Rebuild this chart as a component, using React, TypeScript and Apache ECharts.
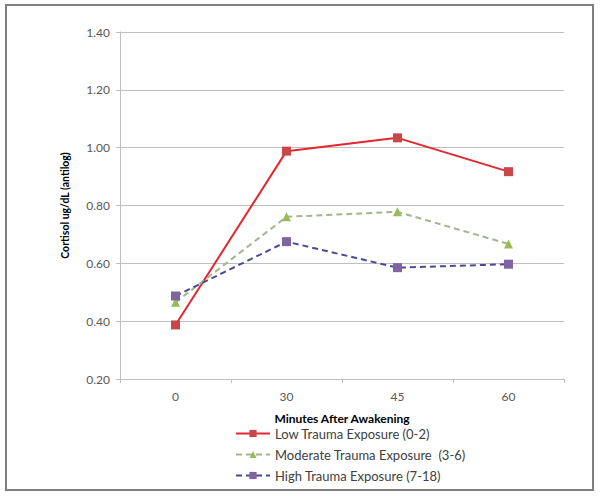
import React, { useEffect, useRef } from "react";
import * as echarts from "echarts";

const categories = ["0", "30", "45", "60"];
const lowTrauma = [0.387, 0.988, 1.034, 0.917];
const moderateTrauma = [0.465, 0.761, 0.778, 0.667];
const highTrauma = [0.487, 0.675, 0.585, 0.597];
const seriesNames = [
  "Low Trauma Exposure (0-2)",
  "Moderate Trauma Exposure  (3-6)",
  "High Trauma Exposure (7-18)",
];

const FONT = "Lato, 'Open Sans', sans-serif";

export default function App() {
  const ref = useRef<HTMLDivElement>(null);
  useEffect(() => {
    if (!ref.current) return;
    const chart = echarts.init(ref.current, undefined, { renderer: "svg" });
    chart.setOption({
      animation: false,
      backgroundColor: "#ffffff",
      textStyle: { fontFamily: FONT },
      graphic: [
        {
          type: "rect",
          shape: { x: 6, y: 5, width: 587, height: 485 },
          style: { fill: "none", stroke: "#7f7f7f", lineWidth: 2 },
          silent: true,
        },
      ],
      grid: { left: 120, top: 32, right: 36, bottom: 118 },
      xAxis: {
        type: "category",
        data: categories,
        boundaryGap: true,
        name: "Minutes After Awakening",
        nameLocation: "middle",
        nameGap: 33,
        nameTextStyle: { fontFamily: FONT, fontWeight: "bold", fontSize: 12, color: "#000" },
        axisLine: { lineStyle: { color: "#bfbfbf" } },
        axisTick: { show: true, length: 4, lineStyle: { color: "#bfbfbf" } },
        axisLabel: { fontFamily: FONT, fontSize: 12, color: "#595959", margin: 11 },
      },
      yAxis: {
        type: "value",
        min: 0.2,
        max: 1.4,
        interval: 0.2,
        name: "Cortisol ug/dL (antilog)",
        nameLocation: "middle",
        nameRotate: 90,
        nameGap: 50,
        nameTextStyle: { fontFamily: FONT, fontWeight: "bold", fontSize: 10.5, color: "#000" },
        axisLine: { show: true, lineStyle: { color: "#bfbfbf" } },
        axisTick: { show: true, length: 4, lineStyle: { color: "#bfbfbf" } },
        splitLine: { lineStyle: { color: "#bfbfbf" } },
        axisLabel: {
          fontFamily: FONT,
          fontSize: 12,
          color: "#595959",
          margin: 10,
          formatter: (v: number) => v.toFixed(2),
        },
      },
      legend: {
        orient: "vertical",
        left: 230,
        top: 422,
        itemWidth: 34,
        itemHeight: 9,
        itemGap: 8,
        textStyle: { fontFamily: FONT, fontSize: 13, color: "#404040" },
        data: seriesNames,
      },
      series: [
        {
          name: seriesNames[0],
          type: "line",
          data: lowTrauma,
          symbol: "rect",
          symbolSize: 9,
          lineStyle: { color: "#e0282e", width: 2 },
          itemStyle: { color: "#c8474a" },
        },
        {
          name: seriesNames[1],
          type: "line",
          data: moderateTrauma,
          symbol: "triangle",
          symbolSize: 9,
          lineStyle: { color: "#a3b58f", width: 2, type: [6, 4] },
          itemStyle: { color: "#9bbb59" },
        },
        {
          name: seriesNames[2],
          type: "line",
          data: highTrauma,
          symbol: "rect",
          symbolSize: 9,
          lineStyle: { color: "#4a4a96", width: 2, type: [6, 4] },
          itemStyle: { color: "#8064a2" },
        },
      ],
    });
    return () => chart.dispose();
  }, []);
  return (
    <div
      ref={ref}
      style={{ position: "fixed", left: 0, top: 0, width: 600, height: 497 }}
    />
  );
}
